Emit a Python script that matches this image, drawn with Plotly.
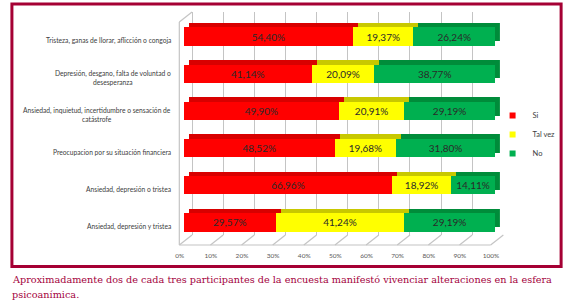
import plotly.graph_objects as go

# ---------------- data ----------------
categories = [
    "Tristeza, ganas de llorar, aflicción o congoja",
    "Depresión, desgano, falta de voluntad o<br>desesperanza",
    "Ansiedad, inquietud, incertidumbre o sensación de<br>catástrofe",
    "Preocupacion por su situación financiera",
    "Ansiedad, depresión o tristea",
    "Ansiedad, depresión y tristea",
]
series_names = ["Si", "Tal vez", "No"]
si_values = [54.40, 41.14, 49.90, 48.52, 66.96, 29.57]
talvez_values = [19.37, 20.09, 20.91, 19.68, 18.92, 41.24]
no_values = [26.24, 38.77, 29.19, 31.80, 14.11, 29.19]
x_tick_values = [0, 10, 20, 30, 40, 50, 60, 70, 80, 90, 100]
x_tick_labels = ["0%", "10%", "20%", "30%", "40%", "50%", "60%", "70%", "80%", "90%", "100%"]
caption_lines = [
    "Aproximadamente dos de cada tres participantes de la encuesta manifestó vivenciar alteraciones en la esfera",
    "psicoanímica.",
]

series_values = [si_values, talvez_values, no_values]
front_colors = ["#FF0000", "#FFFF00", "#00B050"]
top_colors = ["#D80000", "#C8C800", "#008C3A"]

W, H = 570, 303


def fx(p):
    return p / W


def fy(p):
    return 1 - p / H


n = len(categories)
yrange = [n - 0.5, -0.5]

# geometry (pixels)
wall = dict(x0=188, x1=506, y0=12, y1=235)        # back wall (gridlines)
back = dict(x0=184.5, x1=502.5, y0=13.5, y1=236.5)  # bar back faces
front = dict(x0=179.5, x1=497.5, y0=18, y1=241)   # bar front faces
floor = dict(x0=175, x1=493, y0=22, y1=245)       # front plane

fig = go.Figure()

# invisible trace to establish the back-wall subplot
fig.add_trace(go.Scatter(x=[0, 100], y=[categories[0], categories[0]], mode="markers",
                         marker=dict(opacity=0), hoverinfo="skip", showlegend=False,
                         xaxis="x", yaxis="y"))

# bar back faces (depth)
for name, vals, col in zip(series_names, series_values, top_colors):
    fig.add_trace(go.Bar(y=categories, x=vals, orientation="h", name=name,
                         marker=dict(color=col, line=dict(width=0)),
                         showlegend=False, hoverinfo="skip",
                         xaxis="x2", yaxis="y2"))

# bar front faces
for name, vals, col in zip(series_names, series_values, front_colors):
    fig.add_trace(go.Bar(y=categories, x=vals, orientation="h", name=name,
                         marker=dict(color=col, line=dict(width=0)),
                         text=vals, texttemplate="%{x:.2f}%", textposition="inside",
                         insidetextanchor="middle", textangle=0,
                         insidetextfont=dict(family="Lato", size=10, color="#2a2a2a"),
                         showlegend=False, xaxis="x3", yaxis="y3"))

# legend entries
for name, col in zip(series_names, front_colors):
    fig.add_trace(go.Scatter(x=[None], y=[None], mode="markers", name=name,
                             marker=dict(symbol="square", size=6, color=col),
                             xaxis="x3", yaxis="y3"))

hidden_y = dict(type="category", range=yrange, showgrid=False, showticklabels=False,
                zeroline=False, showline=False, ticks="")

fig.update_layout(
    width=W, height=H,
    margin=dict(l=0, r=0, t=0, b=0),
    paper_bgcolor="white",
    plot_bgcolor="rgba(0,0,0,0)",
    barmode="stack",
    bargap=0.51,
    separators=",.",
    showlegend=True,
    legend=dict(x=fx(495), y=fy(101), xanchor="left", yanchor="top",
                font=dict(family="Lato", size=7.5, color="#404040"),
                traceorder="normal", itemsizing="trace", tracegroupgap=0,
                bgcolor="rgba(0,0,0,0)"),
    xaxis=dict(domain=[fx(wall["x0"]), fx(wall["x1"])], range=[0, 100], anchor="y",
               tickvals=x_tick_values, showgrid=True, gridcolor="#C4C4C4", gridwidth=1.2,
               zeroline=True, zerolinecolor="#C4C4C4", zerolinewidth=1.2,
               showticklabels=False, ticks="", showline=False),
    yaxis=dict(domain=[fy(wall["y1"]), fy(wall["y0"])], anchor="x", **hidden_y),
    xaxis2=dict(domain=[fx(back["x0"]), fx(back["x1"])], range=[0, 100], anchor="y2",
                showgrid=False, zeroline=False, showticklabels=False, ticks="", showline=False),
    yaxis2=dict(domain=[fy(back["y1"]), fy(back["y0"])], anchor="x2", **hidden_y),
    xaxis3=dict(domain=[fx(front["x0"]), fx(front["x1"])], range=[0, 100], anchor="y3",
                showgrid=False, zeroline=False, showline=False, ticks="",
                tickvals=x_tick_values, ticktext=x_tick_labels,
                tickfont=dict(family="Lato", size=6.5, color="#595959"),
                ticklabelshift=-4, ticklabelstandoff=9),
    yaxis3=dict(domain=[fy(front["y1"]), fy(front["y0"])], anchor="x3", **hidden_y),
)

shapes = []
gc = dict(color="#C4C4C4", width=1.2)
# floor diagonals from back wall to front plane
for v in x_tick_values:
    t = v / 100
    shapes.append(dict(type="line", xref="paper", yref="paper",
                       x0=fx(wall["x0"] + (wall["x1"] - wall["x0"]) * t), y0=fy(wall["y1"]),
                       x1=fx(floor["x0"] + (floor["x1"] - floor["x0"]) * t), y1=fy(floor["y1"]),
                       line=gc, layer="below"))
# floor front edge
shapes.append(dict(type="line", xref="paper", yref="paper",
                   x0=fx(floor["x0"]), y0=fy(floor["y1"]), x1=fx(floor["x1"]), y1=fy(floor["y1"]),
                   line=gc, layer="below"))
# left wall
shapes.append(dict(type="line", xref="paper", yref="paper",
                   x0=fx(floor["x0"]), y0=fy(floor["y0"]), x1=fx(floor["x0"]), y1=fy(floor["y1"]),
                   line=gc, layer="below"))
shapes.append(dict(type="line", xref="paper", yref="paper",
                   x0=fx(floor["x0"]), y0=fy(floor["y0"]), x1=fx(wall["x0"]), y1=fy(wall["y0"]),
                   line=gc, layer="below"))
# outer frame
shapes.append(dict(type="rect", xref="paper", yref="paper",
                   x0=fx(4), y0=fy(266.5), x1=fx(565), y1=fy(4),
                   line=dict(color="#A50034", width=3), fillcolor="rgba(0,0,0,0)"))
fig.update_layout(shapes=shapes)

annotations = []
# category labels
for cat in categories:
    annotations.append(dict(x=fx(169), xref="paper", y=cat, yref="y3", text=cat,
                            xanchor="right", yanchor="middle", align="center", yshift=-4,
                            showarrow=False,
                            font=dict(family="Lato", size=6.7, color="#404040")))
# caption
for i, line in enumerate(caption_lines):
    annotations.append(dict(x=fx(2), xref="paper", y=fy(279 + 15 * i), yref="paper",
                            text=line, xanchor="left", yanchor="middle", showarrow=False,
                            font=dict(family="DejaVu Serif", size=9.7, color="#A3003C")))
fig.update_layout(annotations=annotations)

fig.write_html("out.html", config={"displayModeBar": False},
               post_script="document.body.style.margin='0px';document.body.style.overflow='hidden';")
